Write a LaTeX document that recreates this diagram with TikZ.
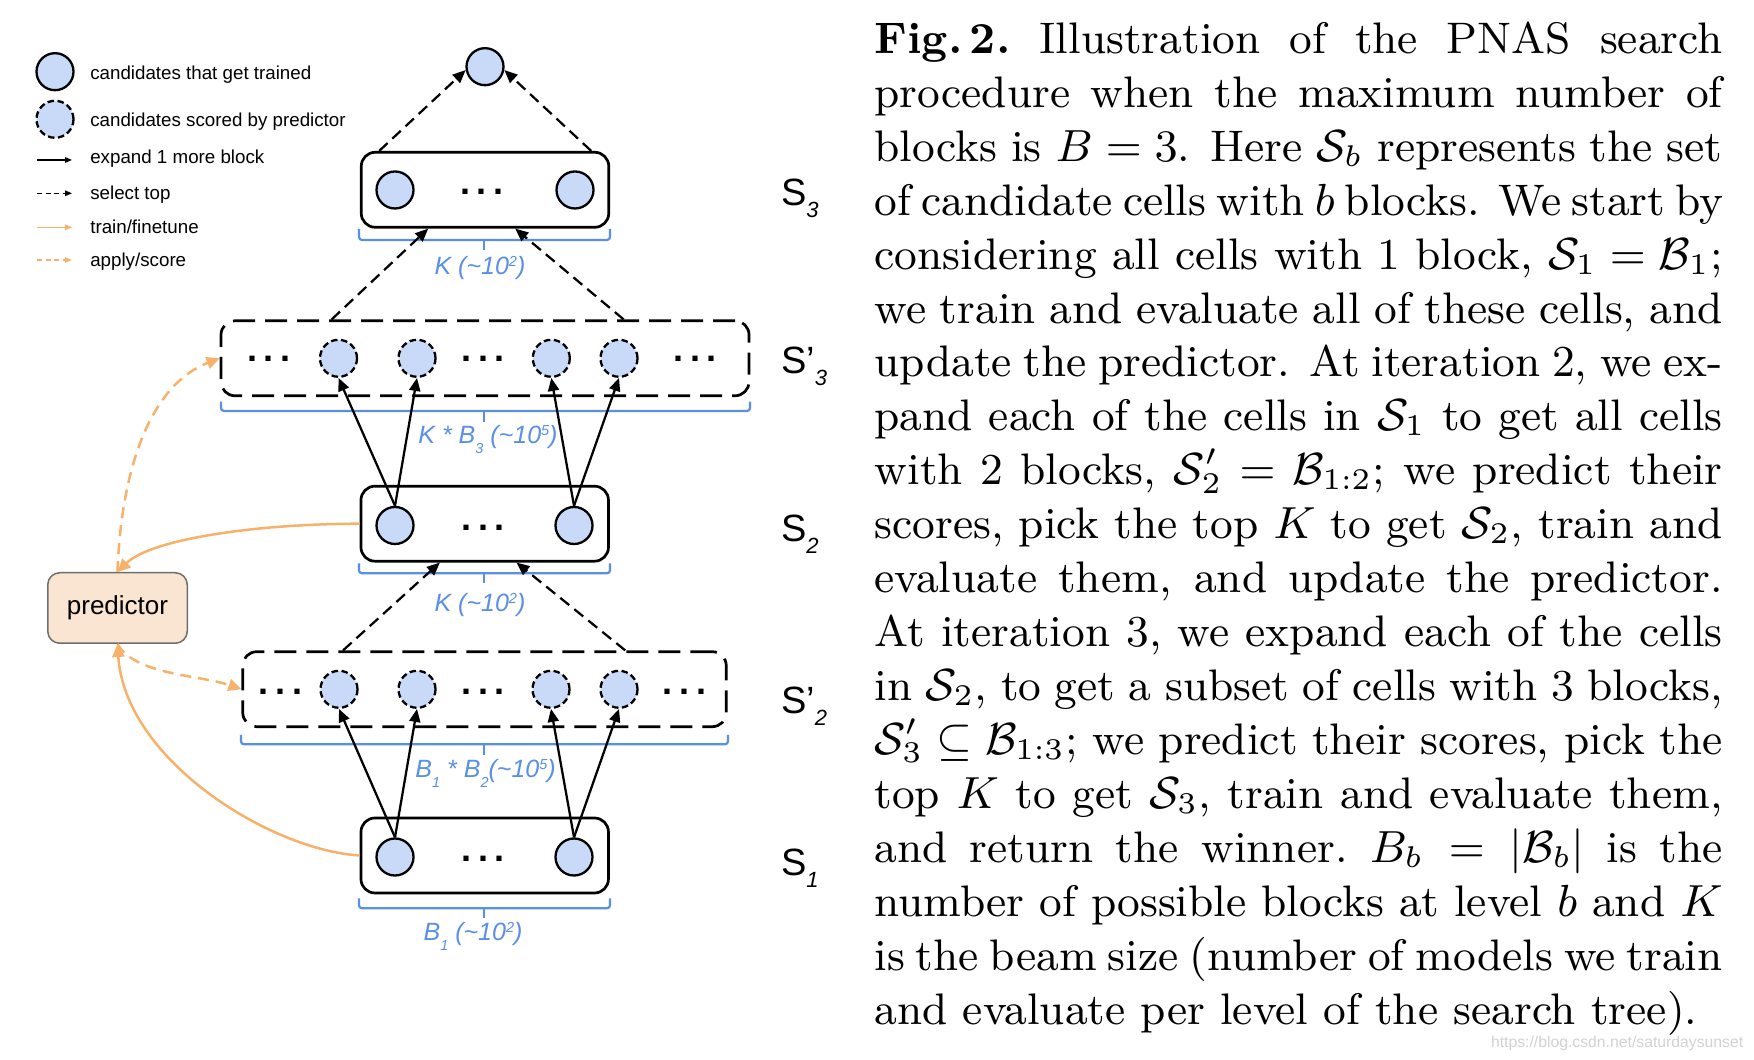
\documentclass[tikz,border=0pt]{standalone}
\usepackage{fontspec}
\setsansfont{Liberation Sans}
\usetikzlibrary{arrows.meta,calc}
\definecolor{cfill}{HTML}{C9DAF8}
\definecolor{blu}{HTML}{5A8FE6}
\definecolor{orng}{HTML}{F6B26B}
\definecolor{pfill}{HTML}{F9E5D2}
\definecolor{pdraw}{HTML}{6E6E6E}
\definecolor{wmgray}{HTML}{D2D2D2}
\newcommand\tdots{\fontsize{7.2pt}{8pt}\selectfont\sffamily\bfseries .\kern1.4pt.\kern1.4pt.}
\newcommand\bsub[1]{\raisebox{-2pt}{\fontsize{2.9pt}{3pt}\selectfont #1}}
\newcommand\bsup[1]{\raisebox{1.6pt}{\fontsize{2.9pt}{3pt}\selectfont #1}}
\newcommand\ssub[1]{\raisebox{-2.4pt}{\fontsize{4.4pt}{5pt}\selectfont\itshape #1}}
\newcommand\capline[1]{\hbox to 169.6pt{#1}}
\tikzset{
  cand/.style={circle, draw=black, line width=0.46pt, fill=cfill, minimum size=7.4pt, inner sep=0pt},
  scored/.style={cand, dash pattern=on 1.3pt off 0.7pt},
  cellbox/.style={rectangle, rounded corners=2.8pt, draw=black, line width=0.54pt, minimum width=49.5pt, minimum height=15pt, inner sep=0pt},
  scoredbox/.style={cellbox, dash pattern=on 4.4pt off 2pt},
  dotsn/.style={anchor=base, inner sep=0pt},
  expand/.style={-{Triangle[length=2.6pt,width=2.2pt]}, line width=0.45pt},
  seltop/.style={expand, dash pattern=on 2.3pt off 1.3pt},
  trainarr/.style={-{Triangle[length=2.6pt,width=2.4pt]}, draw=orng, line width=0.5pt},
  applyarr/.style={trainarr, dash pattern=on 2.2pt off 1.4pt},
  legexp/.style={-{Triangle[length=1.4pt,width=1.1pt]}, line width=0.27pt},
  legsel/.style={legexp, dash pattern=on 1pt off 0.7pt},
  legtrain/.style={legexp, draw=orng},
  legapply/.style={legtrain, dash pattern=on 1pt off 0.7pt},
  legtext/.style={anchor=base west, inner sep=0pt, font=\sffamily\fontsize{3.75pt}{4.5pt}\selectfont},
  brace/.style={draw=blu, line width=0.45pt, rounded corners=0.6pt},
  blab/.style={inner sep=0pt, text=blu, font=\sffamily\itshape\fontsize{5pt}{6pt}\selectfont},
  slab/.style={anchor=base west, inner sep=0pt, font=\sffamily\fontsize{7.6pt}{9pt}\selectfont},
  predbox/.style={rectangle, rounded corners=2.4pt, draw=pdraw, line width=0.3pt, fill=pfill, minimum width=27.9pt, minimum height=14.1pt, inner sep=0pt, font=\sffamily\fontsize{5.2pt}{6pt}\selectfont}
}
\begin{document}
\begin{tikzpicture}[x=0.2pt,y=-0.2pt]
\useasboundingbox (0,0) rectangle (1754,1060);
\fill[white] (0,0) rectangle (1754,1060);

% ---------- legend ----------
\node[cand] (lg1) at (55,71.7) {};
\node[legtext] (lt1) at (89.3,79.3) {candidates that get trained};
\node[scored] (lg2) at (55,119.3) {};
\node[legtext] (lt2) at (89.3,126.7) {candidates scored by predictor};
\coordinate (la1) at (37,160); \coordinate (lb1) at (72,160);
\draw[legexp] (la1) -- (lb1);
\node[legtext] (lt3) at (89.3,163.3) {expand 1 more block};
\coordinate (la2) at (37,193.3); \coordinate (lb2) at (72,193.3);
\draw[legsel] (la2) -- (lb2);
\node[legtext] (lt4) at (89.3,199.3) {select top};
\coordinate (la3) at (37,227.3); \coordinate (lb3) at (72,227.3);
\draw[legtrain] (la3) -- (lb3);
\node[legtext] (lt5) at (89.3,234) {train/finetune};
\coordinate (la4) at (37,260); \coordinate (lb4) at (72,260);
\draw[legapply] (la4) -- (lb4);
\node[legtext] (lt6) at (89.3,266.7) {apply/score};

% ---------- boxes ----------
\node[cellbox] (s3box) at (485,189.8) {};
\node[scoredbox, minimum width=105.6pt] (p3box) at (485,358.3) {};
\node[cellbox] (s2box) at (484.7,523.7) {};
\node[scoredbox, minimum width=96.7pt] (p2box) at (484.5,689.2) {};
\node[cellbox] (s1box) at (484.7,855.5) {};
\node[predbox] (pred) at (117.5,608) {\raisebox{-1.2pt}{predictor}};

% ---------- circles ----------
\node[cand] (top) at (485,66.7) {};
\node[cand] (s3a) at (395,190) {};
\node[cand] (s3b) at (575,190) {};
\node[scored] (p3a) at (338.5,358.3) {};
\node[scored] (p3b) at (417,358.3) {};
\node[scored] (p3c) at (551.3,358.3) {};
\node[scored] (p3d) at (619,358.3) {};
\node[cand] (s2a) at (395,525.5) {};
\node[cand] (s2b) at (574,525.5) {};
\node[scored] (p2a) at (339,689.3) {};
\node[scored] (p2b) at (417,689.3) {};
\node[scored] (p2c) at (551,689.3) {};
\node[scored] (p2d) at (619,689.3) {};
\node[cand] (s1a) at (395,857) {};
\node[cand] (s1b) at (574,857) {};

% ---------- dots ----------
\node[dotsn] (d3) at (482,194.2) {\tdots};
\node[dotsn] (dp3a) at (269,361.8) {\tdots};
\node[dotsn] (dp3b) at (483,361.8) {\tdots};
\node[dotsn] (dp3c) at (695,361.8) {\tdots};
\node[dotsn] (d2) at (483,530.2) {\tdots};
\node[dotsn] (dp2a) at (280.4,694.2) {\tdots};
\node[dotsn] (dp2b) at (483,694.2) {\tdots};
\node[dotsn] (dp2c) at (684.5,694.2) {\tdots};
\node[dotsn] (d1) at (483,861.8) {\tdots};

% ---------- brackets ----------
\draw[brace] (359,229) -- (359,240) -- (610,240) -- (610,229);
\draw[brace] (484,240) -- (484,250);
\draw[brace] (221,401.7) -- (221,411) -- (750,411) -- (750,401.7);
\draw[brace] (484,411) -- (484,421.7);
\draw[brace] (359,563.3) -- (359,573.3) -- (610,573.3) -- (610,563.3);
\draw[brace] (484,573.3) -- (484,583);
\draw[brace] (241,735) -- (241,744.3) -- (728,744.3) -- (728,735);
\draw[brace] (484,744.3) -- (484,755);
\draw[brace] (359,898.3) -- (359,908.3) -- (610,908.3) -- (610,898.3);
\draw[brace] (484,908.3) -- (484,918.3);

% ---------- bracket labels ----------
\node[blab] (k3) at (480,268) {K (\textasciitilde 10\bsup{2})};
\node[blab] (kb3) at (488,440) {K * B\bsub{3} (\textasciitilde 10\bsup{5})};
\node[blab] (k2) at (480,605) {K (\textasciitilde 10\bsup{2})};
\node[blab] (bb2) at (485.6,773.3) {B\bsub{1} * B\bsub{2}(\textasciitilde 10\bsup{5})};
\node[blab] (b1) at (473,936) {B\bsub{1} (\textasciitilde 10\bsup{2})};

% ---------- S labels ----------
\node[slab] (l3) at (780,206) {S\ssub{3}};
\node[slab] (lp3) at (780,373.6) {S’\ssub{3}};
\node[slab] (l2) at (780,541.4) {S\ssub{2}};
\node[slab] (lp2) at (780,713.7) {S’\ssub{2}};
\node[slab] (l1) at (780,876) {S\ssub{1}};

% ---------- select-top arrows ----------
\draw[seltop] ($(s3box.north west)+(19.3,0)$) -- (top.190);
\draw[seltop] ($(s3box.north west)+(231.3,0)$) -- (top.-10);
\draw[seltop] ($(p3box.north west)+(112,0)$) -- ($(s3box.south west)+(68.3,0)$);
\draw[seltop] ($(p3box.north west)+(404,0)$) -- ($(s3box.south west)+(155.3,0)$);
\draw[seltop] ($(p2box.north west)+(101.7,0)$) -- ($(s2box.south west)+(80.3,0)$);
\draw[seltop] ($(p2box.north west)+(383.8,0)$) -- ($(s2box.south west)+(156.9,0)$);

% ---------- expand arrows ----------
\draw[expand] (s2a.north) -- (p3a.south);
\draw[expand] (s2a.north) -- (p3b.south);
\draw[expand] (s2b.north) -- (p3c.south);
\draw[expand] (s2b.north) -- (p3d.south);
\draw[expand] (s1a.north) -- (p2a.south);
\draw[expand] (s1a.north) -- (p2b.south);
\draw[expand] (s1b.north) -- (p2c.south);
\draw[expand] (s1b.north) -- (p2d.south);

% ---------- predictor connections ----------
\draw[trainarr] (s2box.west) .. controls (250,524) and (150,540) .. (pred.north);
\draw[trainarr] (s1box.west) .. controls (270,850) and (125,760) .. (pred.south);
\draw[applyarr] (pred.north) .. controls (121,470) and (150,385) .. (p3box.west);
\draw[applyarr] (pred.south) .. controls (135,675) and (200,675) .. (p2box.west);

% ---------- caption ----------
\node[anchor=base west, inner sep=0pt] (cap) at (873.6,53.3)
{\vtop{\fontsize{8.83pt}{10.79pt}\selectfont
\capline{\textbf{Fig.\,2.}\ Illustration of the PNAS search}
\capline{procedure when the maximum number of}
\capline{blocks is $B=3$. Here $\mathcal{S}_b$ represents the set}
\capline{of candidate cells with $b$ blocks. We start by}
\capline{considering all cells with 1 block, $\mathcal{S}_1=\mathcal{B}_1$;}
\capline{we train and evaluate all of these cells, and}
\capline{update the predictor. At iteration 2, we ex-}
\capline{pand each of the cells in $\mathcal{S}_1$ to get all cells}
\capline{with 2 blocks, $\mathcal{S}'_2=\mathcal{B}_{1:2}$; we predict their}
\capline{scores, pick the top $K$ to get $\mathcal{S}_2$, train and}
\capline{evaluate them, and update the predictor.}
\capline{At iteration 3, we expand each of the cells}
\capline{in $\mathcal{S}_2$, to get a subset of cells with 3 blocks,}
\capline{$\mathcal{S}'_3\subseteq\mathcal{B}_{1:3}$; we predict their scores, pick the}
\capline{top $K$ to get $\mathcal{S}_3$, train and evaluate them,}
\capline{and return the winner.\ $B_b=|\mathcal{B}_b|$ is the}
\capline{number of possible blocks at level $b$ and $K$}
\capline{is the beam size (number of models we train}
\hbox{and evaluate per level of the search tree).}}};

% ---------- watermark ----------
\node[anchor=base west, inner sep=0pt, text=wmgray, font=\sffamily\fontsize{3.15pt}{4pt}\selectfont] (wm) at (1490,1047.7) {https://blog.csdn.net/saturdaysunset};
\end{tikzpicture}
\end{document}
